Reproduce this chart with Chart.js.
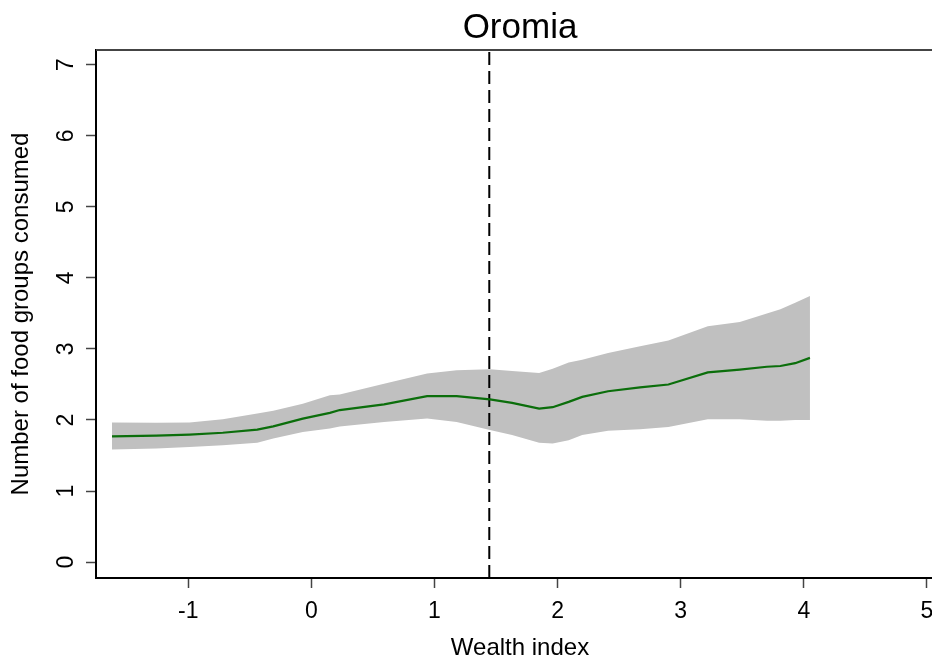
<!DOCTYPE html>
<html>
<head>
<meta charset="utf-8">
<script src="https://cdn.jsdelivr.net/npm/chart.js@4.4.1/dist/chart.umd.min.js"></script>
<style>
  html, body { margin: 0; padding: 0; background: #fff; overflow: hidden; }
</style>
</head>
<body>
<canvas id="oromia" width="944" height="660"></canvas>
<script>
// wealth index grid and fitted values
var wealth = [-1.62, -1.26, -0.99, -0.72, -0.44, -0.31, -0.07, 0.15, 0.23, 0.59, 0.94, 1.18, 1.45, 1.63, 1.85, 1.96, 2.09, 2.20, 2.41, 2.67, 2.90, 3.22, 3.48, 3.70, 3.81, 3.93, 4.05];
var fitted = [1.77, 1.78, 1.795, 1.82, 1.865, 1.91, 2.02, 2.10, 2.14, 2.22, 2.335, 2.335, 2.29, 2.24, 2.16, 2.18, 2.255, 2.325, 2.405, 2.46, 2.50, 2.67, 2.71, 2.75, 2.76, 2.80, 2.875];
var ciUpper = [1.965, 1.96, 1.965, 2.01, 2.09, 2.13, 2.23, 2.35, 2.36, 2.51, 2.655, 2.70, 2.715, 2.69, 2.66, 2.72, 2.81, 2.85, 2.945, 3.04, 3.12, 3.32, 3.38, 3.50, 3.56, 3.65, 3.745];
var ciLower = [1.585, 1.60, 1.62, 1.645, 1.68, 1.74, 1.83, 1.88, 1.91, 1.97, 2.02, 1.97, 1.86, 1.79, 1.68, 1.67, 1.715, 1.79, 1.85, 1.87, 1.90, 2.01, 2.01, 1.99, 1.99, 2.00, 2.00];
var cutoff = 1.445;
var xTicks = [-1, 0, 1, 2, 3, 4, 5];
var yTicks = [0, 1, 2, 3, 4, 5, 6, 7];
var xRange = [-1.75, 5.139];
var yRange = [-0.225, 7.21];
var titleText = "Oromia";

var FONT = "'Liberation Sans', Arial, Helvetica, sans-serif";

function pts(ys) {
    return wealth.map(function (x, i) { return { x: x, y: ys[i] }; });
}

// title and the top frame line
var frame = {
    id: 'frame',
    afterDraw: function (chart) {
        var ctx = chart.ctx;
        var a = chart.chartArea;
        ctx.save();
        ctx.strokeStyle = '#444';
        ctx.lineWidth = 2;
        ctx.beginPath();
        ctx.moveTo(a.left, a.top);
        ctx.lineTo(a.right, a.top);
        ctx.stroke();
        ctx.fillStyle = '#000';
        ctx.font = '35px ' + FONT;
        ctx.textAlign = 'center';
        ctx.textBaseline = 'alphabetic';
        ctx.fillText(titleText, (a.left + a.right) / 2, 38);
        ctx.restore();
    }
};

function setTicks(values) {
    return function (scale) {
        scale.ticks = values.map(function (v) { return { value: v }; });
    };
}

window.onload = function () {
    var ctx = document.getElementById('oromia').getContext('2d');
    new Chart(ctx, {
        type: 'line',
        data: {
            datasets: [
                {
                    data: pts(fitted),
                    borderColor: '#0b6e0b',
                    borderWidth: 2.2,
                    pointRadius: 0,
                    fill: false,
                    order: 0
                },
                {
                    data: [{ x: cutoff, y: yRange[0] }, { x: cutoff, y: yRange[1] }],
                    borderColor: '#000',
                    borderWidth: 2,
                    borderDash: [13, 6],
                    pointRadius: 0,
                    fill: false,
                    order: 1
                },
                {
                    data: pts(ciUpper),
                    borderWidth: 0,
                    borderColor: 'rgba(0,0,0,0)',
                    backgroundColor: '#c0c0c0',
                    pointRadius: 0,
                    fill: '+1',
                    order: 2
                },
                {
                    data: pts(ciLower),
                    borderWidth: 0,
                    borderColor: 'rgba(0,0,0,0)',
                    pointRadius: 0,
                    fill: false,
                    order: 3
                }
            ]
        },
        options: {
            responsive: false,
            animation: false,
            devicePixelRatio: 1,
            layout: { padding: { top: 50, left: 0, right: 0, bottom: 0 } },
            plugins: {
                legend: { display: false },
                tooltip: { enabled: false }
            },
            scales: {
                x: {
                    type: 'linear',
                    min: xRange[0],
                    max: xRange[1],
                    ticks: {
                        color: '#000',
                        font: { family: FONT, size: 23 },
                        padding: 10,
                        maxRotation: 0,
                        autoSkip: false
                    },
                    afterBuildTicks: setTicks(xTicks),
                    afterFit: function (scale) {
                        scale.height = 82;
                        scale.paddingLeft = 0;
                        scale.paddingRight = 0;
                    },
                    grid: {
                        drawOnChartArea: false,
                        drawTicks: true,
                        tickLength: 10,
                        tickWidth: 1.5,
                        tickColor: '#444'
                    },
                    border: { display: true, color: '#000', width: 2 },
                    title: {
                        display: true,
                        text: 'Wealth index',
                        color: '#000',
                        font: { family: FONT, size: 24, lineHeight: 1 },
                        padding: { top: 0, bottom: 0 }
                    }
                },
                y: {
                    type: 'linear',
                    min: yRange[0],
                    max: yRange[1],
                    ticks: {
                        color: '#000',
                        font: { family: FONT, size: 23 },
                        padding: 13,
                        minRotation: 90,
                        maxRotation: 90,
                        crossAlign: 'center',
                        autoSkip: false
                    },
                    afterBuildTicks: setTicks(yTicks),
                    afterFit: function (scale) {
                        scale.width = 96;
                        scale.paddingTop = 0;
                        scale.paddingBottom = 0;
                    },
                    grid: {
                        drawOnChartArea: false,
                        drawTicks: true,
                        tickLength: 10,
                        tickWidth: 1.5,
                        tickColor: '#444'
                    },
                    border: { display: true, color: '#000', width: 2 },
                    title: {
                        display: true,
                        text: 'Number of food groups consumed',
                        color: '#000',
                        font: { family: FONT, size: 24 },
                        padding: { top: 7, bottom: 0 }
                    }
                }
            }
        },
        plugins: [frame]
    });
};
</script>
</body>
</html>
